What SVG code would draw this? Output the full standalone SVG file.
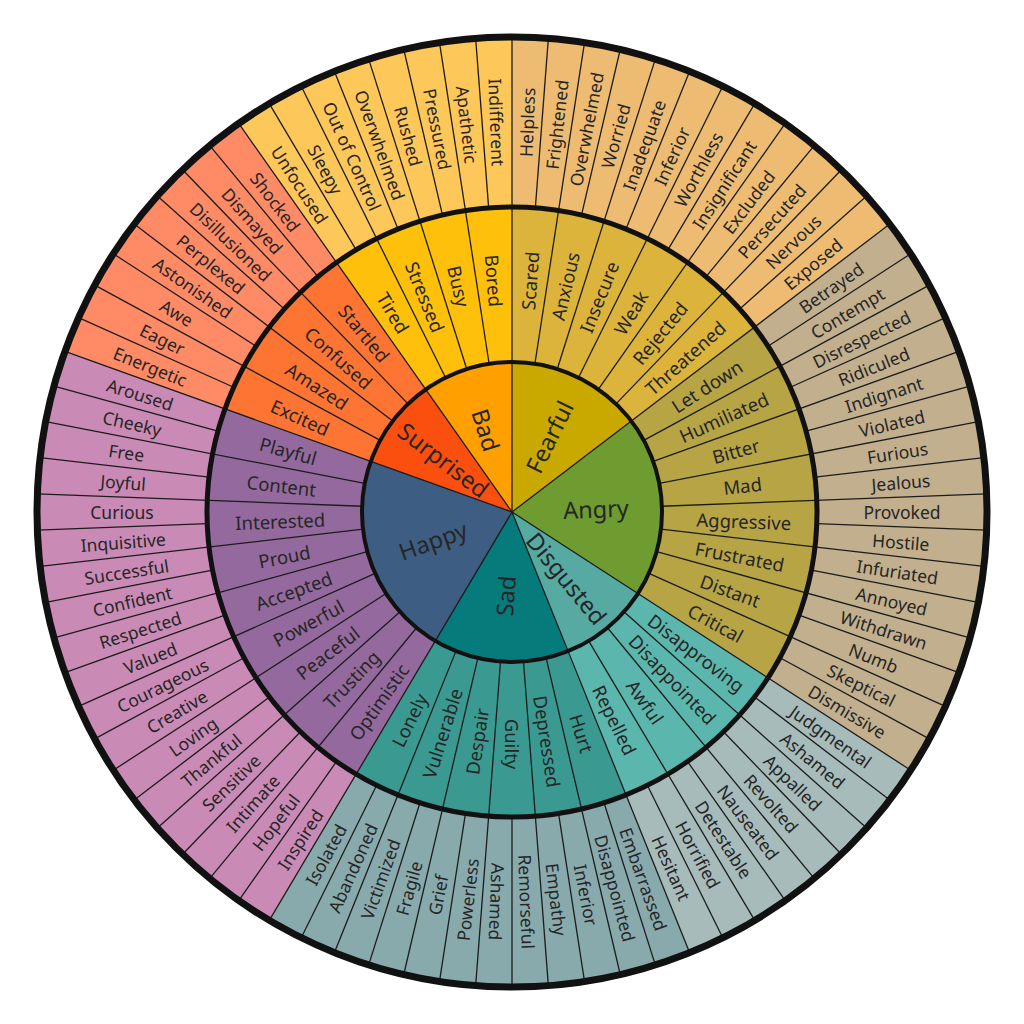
<svg xmlns="http://www.w3.org/2000/svg" xmlns:xlink="http://www.w3.org/1999/xlink" width="1024" height="1024" viewBox="0 0 1024 1024">
<style>
.t{font-family:"Noto Sans","Open Sans","DejaVu Sans",sans-serif;fill:#262626;text-anchor:middle;dominant-baseline:central}
.o{font-size:17.5px}
.m{font-size:18.5px}
.i{font-size:23.5px}
.dv{stroke:#1c1c1c;stroke-width:1.3;fill:none}
.ring{fill:none;stroke:#111}
</style>
<defs>
<line id="lmo" x1="512" y1="362" x2="512" y2="37"/>
<line id="lo" x1="512" y1="207" x2="512" y2="37"/>
<line id="li" x1="512" y1="512" x2="512" y2="362"/>
</defs>
<rect width="1024" height="1024" fill="#fff"/>

<g id="fearful">
<path fill="#EDBC72" d="M512 512 L512 37 A475 475 0 0 1 889.76 224.05 Z"/>
<path fill="#DDB43B" d="M512 512 L512 207 A305 305 0 0 1 754.56 327.10 Z"/>
<path fill="#C9A800" d="M512 512 L512 362 A150 150 0 0 1 631.29 421.07 Z"/>
<text class="t i" x="596" y="512" transform="rotate(-63.66 512 512)">Fearful</text>
<text class="t m" x="744" y="512" transform="rotate(-85.610 512 512)">Scared</text>
<text class="t m" x="744" y="512" transform="rotate(-76.829 512 512)">Anxious</text>
<text class="t m" x="744" y="512" transform="rotate(-68.049 512 512)">Insecure</text>
<text class="t m" x="744" y="512" transform="rotate(-59.268 512 512)">Weak</text>
<text class="t m" x="744" y="512" transform="rotate(-50.488 512 512)">Rejected</text>
<text class="t m" x="744" y="512" transform="rotate(-41.707 512 512)">Threatened</text>
<text class="t o" x="902" y="512" transform="rotate(-87.805 512 512)">Helpless</text>
<text class="t o" x="902" y="512" transform="rotate(-83.415 512 512)">Frightened</text>
<text class="t o" x="902" y="512" transform="rotate(-79.024 512 512)">Overwhelmed</text>
<text class="t o" x="902" y="512" transform="rotate(-74.634 512 512)">Worried</text>
<text class="t o" x="902" y="512" transform="rotate(-70.244 512 512)">Inadequate</text>
<text class="t o" x="902" y="512" transform="rotate(-65.854 512 512)">Inferior</text>
<text class="t o" x="902" y="512" transform="rotate(-61.463 512 512)">Worthless</text>
<text class="t o" x="902" y="512" transform="rotate(-57.073 512 512)">Insignificant</text>
<text class="t o" x="902" y="512" transform="rotate(-52.683 512 512)">Excluded</text>
<text class="t o" x="902" y="512" transform="rotate(-48.293 512 512)">Persecuted</text>
<text class="t o" x="902" y="512" transform="rotate(-43.902 512 512)">Nervous</text>
<text class="t o" x="902" y="512" transform="rotate(-39.512 512 512)">Exposed</text>
</g>

<g id="angry">
<path fill="#C1AF8D" d="M512 512 L889.76 224.05 A475 475 0 0 1 910.70 770.20 Z"/>
<path fill="#B6A445" d="M512 512 L754.56 327.10 A305 305 0 0 1 768.00 677.79 Z"/>
<path fill="#6E9C30" d="M512 512 L631.29 421.07 A150 150 0 0 1 637.90 593.54 Z"/>
<text class="t i" x="596" y="512" transform="rotate(-2.20 512 512)">Angry</text>
<text class="t m" x="744" y="512" transform="rotate(-32.927 512 512)">Let down</text>
<text class="t m" x="744" y="512" transform="rotate(-24.146 512 512)">Humiliated</text>
<text class="t m" x="744" y="512" transform="rotate(-15.366 512 512)">Bitter</text>
<text class="t m" x="744" y="512" transform="rotate(-6.585 512 512)">Mad</text>
<text class="t m" x="744" y="512" transform="rotate(2.195 512 512)">Aggressive</text>
<text class="t m" x="744" y="512" transform="rotate(10.976 512 512)">Frustrated</text>
<text class="t m" x="744" y="512" transform="rotate(19.756 512 512)">Distant</text>
<text class="t m" x="744" y="512" transform="rotate(28.537 512 512)">Critical</text>
<text class="t o" x="902" y="512" transform="rotate(-35.122 512 512)">Betrayed</text>
<text class="t o" x="902" y="512" transform="rotate(-30.732 512 512)">Contempt</text>
<text class="t o" x="902" y="512" transform="rotate(-26.341 512 512)">Disrespected</text>
<text class="t o" x="902" y="512" transform="rotate(-21.951 512 512)">Ridiculed</text>
<text class="t o" x="902" y="512" transform="rotate(-17.561 512 512)">Indignant</text>
<text class="t o" x="902" y="512" transform="rotate(-13.171 512 512)">Violated</text>
<text class="t o" x="902" y="512" transform="rotate(-8.780 512 512)">Furious</text>
<text class="t o" x="902" y="512" transform="rotate(-4.390 512 512)">Jealous</text>
<text class="t o" x="902" y="512">Provoked</text>
<text class="t o" x="902" y="512" transform="rotate(4.390 512 512)">Hostile</text>
<text class="t o" x="902" y="512" transform="rotate(8.780 512 512)">Infuriated</text>
<text class="t o" x="902" y="512" transform="rotate(13.171 512 512)">Annoyed</text>
<text class="t o" x="902" y="512" transform="rotate(17.561 512 512)">Withdrawn</text>
<text class="t o" x="902" y="512" transform="rotate(21.951 512 512)">Numb</text>
<text class="t o" x="902" y="512" transform="rotate(26.341 512 512)">Skeptical</text>
<text class="t o" x="902" y="512" transform="rotate(30.732 512 512)">Dismissive</text>
</g>

<g id="disgusted">
<path fill="#A6BBBA" d="M512 512 L910.70 770.20 A475 475 0 0 1 689.56 952.56 Z"/>
<path fill="#5BB7AD" d="M512 512 L768.00 677.79 A305 305 0 0 1 626.02 794.89 Z"/>
<path fill="#56AAA2" d="M512 512 L637.90 593.54 A150 150 0 0 1 568.07 651.13 Z"/>
<text class="t i" x="598" y="512" transform="rotate(50.49 512 512)">Disgusted</text>
<text class="t m" x="744" y="512" transform="rotate(37.317 512 512)">Disapproving</text>
<text class="t m" x="744" y="512" transform="rotate(46.098 512 512)">Disappointed</text>
<text class="t m" x="744" y="512" transform="rotate(54.878 512 512)">Awful</text>
<text class="t m" x="744" y="512" transform="rotate(63.659 512 512)">Repelled</text>
<text class="t o" x="902" y="512" transform="rotate(35.122 512 512)">Judgmental</text>
<text class="t o" x="902" y="512" transform="rotate(39.512 512 512)">Ashamed</text>
<text class="t o" x="902" y="512" transform="rotate(43.902 512 512)">Appalled</text>
<text class="t o" x="902" y="512" transform="rotate(48.293 512 512)">Revolted</text>
<text class="t o" x="902" y="512" transform="rotate(52.683 512 512)">Nauseated</text>
<text class="t o" x="902" y="512" transform="rotate(57.073 512 512)">Detestable</text>
<text class="t o" x="902" y="512" transform="rotate(61.463 512 512)">Horrified</text>
<text class="t o" x="902" y="512" transform="rotate(65.854 512 512)">Hesitant</text>
</g>

<g id="sad">
<path fill="#89AAAD" d="M512 512 L689.56 952.56 A475 475 0 0 1 269.27 920.30 Z"/>
<path fill="#3A9A91" d="M512 512 L626.02 794.89 A305 305 0 0 1 356.14 774.17 Z"/>
<path fill="#057B7B" d="M512 512 L568.07 651.13 A150 150 0 0 1 435.35 640.94 Z"/>
<text class="t i" x="428" y="512" transform="rotate(-85.61 512 512)">Sad</text>
<text class="t m" x="744" y="512" transform="rotate(72.439 512 512)">Hurt</text>
<text class="t m" x="744" y="512" transform="rotate(81.220 512 512)">Depressed</text>
<text class="t m" x="744" y="512" transform="rotate(90 512 512)">Guilty</text>
<text class="t m" x="280" y="512" transform="rotate(-81.220 512 512)">Despair</text>
<text class="t m" x="280" y="512" transform="rotate(-72.439 512 512)">Vulnerable</text>
<text class="t m" x="280" y="512" transform="rotate(-63.659 512 512)">Lonely</text>
<text class="t o" x="902" y="512" transform="rotate(70.244 512 512)">Embarrassed</text>
<text class="t o" x="902" y="512" transform="rotate(74.634 512 512)">Disappointed</text>
<text class="t o" x="902" y="512" transform="rotate(79.024 512 512)">Inferior</text>
<text class="t o" x="902" y="512" transform="rotate(83.415 512 512)">Empathy</text>
<text class="t o" x="902" y="512" transform="rotate(87.805 512 512)">Remorseful</text>
<text class="t o" x="902" y="512" transform="rotate(92.195 512 512)">Ashamed</text>
<text class="t o" x="122" y="512" transform="rotate(-83.415 512 512)">Powerless</text>
<text class="t o" x="122" y="512" transform="rotate(-79.024 512 512)">Grief</text>
<text class="t o" x="122" y="512" transform="rotate(-74.634 512 512)">Fragile</text>
<text class="t o" x="122" y="512" transform="rotate(-70.244 512 512)">Victimized</text>
<text class="t o" x="122" y="512" transform="rotate(-65.854 512 512)">Abandoned</text>
<text class="t o" x="122" y="512" transform="rotate(-61.463 512 512)">Isolated</text>
</g>

<g id="happy">
<path fill="#C98AB6" d="M512 512 L269.27 920.30 A475 475 0 0 1 64.95 351.44 Z"/>
<path fill="#94699D" d="M512 512 L356.14 774.17 A305 305 0 0 1 224.95 408.90 Z"/>
<path fill="#3E5D82" d="M512 512 L435.35 640.94 A150 150 0 0 1 370.83 461.30 Z"/>
<text class="t i" x="428" y="512" transform="rotate(-19.76 512 512)">Happy</text>
<text class="t m" x="280" y="512" transform="rotate(-54.878 512 512)">Optimistic</text>
<text class="t m" x="280" y="512" transform="rotate(-46.098 512 512)">Trusting</text>
<text class="t m" x="280" y="512" transform="rotate(-37.317 512 512)">Peaceful</text>
<text class="t m" x="280" y="512" transform="rotate(-28.537 512 512)">Powerful</text>
<text class="t m" x="280" y="512" transform="rotate(-19.756 512 512)">Accepted</text>
<text class="t m" x="280" y="512" transform="rotate(-10.976 512 512)">Proud</text>
<text class="t m" x="280" y="512" transform="rotate(-2.195 512 512)">Interested</text>
<text class="t m" x="280" y="512" transform="rotate(6.585 512 512)">Content</text>
<text class="t m" x="280" y="512" transform="rotate(15.366 512 512)">Playful</text>
<text class="t o" x="122" y="512" transform="rotate(-57.073 512 512)">Inspired</text>
<text class="t o" x="122" y="512" transform="rotate(-52.683 512 512)">Hopeful</text>
<text class="t o" x="122" y="512" transform="rotate(-48.293 512 512)">Intimate</text>
<text class="t o" x="122" y="512" transform="rotate(-43.902 512 512)">Sensitive</text>
<text class="t o" x="122" y="512" transform="rotate(-39.512 512 512)">Thankful</text>
<text class="t o" x="122" y="512" transform="rotate(-35.122 512 512)">Loving</text>
<text class="t o" x="122" y="512" transform="rotate(-30.732 512 512)">Creative</text>
<text class="t o" x="122" y="512" transform="rotate(-26.341 512 512)">Courageous</text>
<text class="t o" x="122" y="512" transform="rotate(-21.951 512 512)">Valued</text>
<text class="t o" x="122" y="512" transform="rotate(-17.561 512 512)">Respected</text>
<text class="t o" x="122" y="512" transform="rotate(-13.171 512 512)">Confident</text>
<text class="t o" x="122" y="512" transform="rotate(-8.780 512 512)">Successful</text>
<text class="t o" x="122" y="512" transform="rotate(-4.390 512 512)">Inquisitive</text>
<text class="t o" x="122" y="512">Curious</text>
<text class="t o" x="122" y="512" transform="rotate(4.390 512 512)">Joyful</text>
<text class="t o" x="122" y="512" transform="rotate(8.780 512 512)">Free</text>
<text class="t o" x="122" y="512" transform="rotate(13.171 512 512)">Cheeky</text>
<text class="t o" x="122" y="512" transform="rotate(17.561 512 512)">Aroused</text>
</g>

<g id="surprised">
<path fill="#FE8A66" d="M512 512 L64.95 351.44 A475 475 0 0 1 238.72 123.48 Z"/>
<path fill="#FE7433" d="M512 512 L224.95 408.90 A305 305 0 0 1 336.53 262.53 Z"/>
<path fill="#FB4F0F" d="M512 512 L370.83 461.30 A150 150 0 0 1 425.70 389.31 Z"/>
<text class="t i" x="426" y="512" transform="rotate(37.32 512 512)">Surprised</text>
<text class="t m" x="280" y="512" transform="rotate(24.146 512 512)">Excited</text>
<text class="t m" x="280" y="512" transform="rotate(32.927 512 512)">Amazed</text>
<text class="t m" x="280" y="512" transform="rotate(41.707 512 512)">Confused</text>
<text class="t m" x="280" y="512" transform="rotate(50.488 512 512)">Startled</text>
<text class="t o" x="122" y="512" transform="rotate(21.951 512 512)">Energetic</text>
<text class="t o" x="122" y="512" transform="rotate(26.341 512 512)">Eager</text>
<text class="t o" x="122" y="512" transform="rotate(30.732 512 512)">Awe</text>
<text class="t o" x="122" y="512" transform="rotate(35.122 512 512)">Astonished</text>
<text class="t o" x="122" y="512" transform="rotate(39.512 512 512)">Perplexed</text>
<text class="t o" x="122" y="512" transform="rotate(43.902 512 512)">Disillusioned</text>
<text class="t o" x="122" y="512" transform="rotate(48.293 512 512)">Dismayed</text>
<text class="t o" x="122" y="512" transform="rotate(52.683 512 512)">Shocked</text>
</g>

<g id="bad">
<path fill="#FEC759" d="M512 512 L238.72 123.48 A475 475 0 0 1 512 37 Z"/>
<path fill="#FFC00C" d="M512 512 L336.53 262.53 A305 305 0 0 1 512 207 Z"/>
<path fill="#FF9F00" d="M512 512 L425.70 389.31 A150 150 0 0 1 512 362 Z"/>
<text class="t i" x="426" y="512" transform="rotate(72.44 512 512)">Bad</text>
<text class="t m" x="280" y="512" transform="rotate(59.268 512 512)">Tired</text>
<text class="t m" x="280" y="512" transform="rotate(68.049 512 512)">Stressed</text>
<text class="t m" x="280" y="512" transform="rotate(76.829 512 512)">Busy</text>
<text class="t m" x="280" y="512" transform="rotate(85.610 512 512)">Bored</text>
<text class="t o" x="122" y="512" transform="rotate(57.073 512 512)">Unfocused</text>
<text class="t o" x="122" y="512" transform="rotate(61.463 512 512)">Sleepy</text>
<text class="t o" x="122" y="512" transform="rotate(65.854 512 512)">Out of Control</text>
<text class="t o" x="122" y="512" transform="rotate(70.244 512 512)">Overwhelmed</text>
<text class="t o" x="122" y="512" transform="rotate(74.634 512 512)">Rushed</text>
<text class="t o" x="122" y="512" transform="rotate(79.024 512 512)">Pressured</text>
<text class="t o" x="122" y="512" transform="rotate(83.415 512 512)">Apathetic</text>
<text class="t o" x="122" y="512" transform="rotate(87.805 512 512)">Indifferent</text>
</g>

<g id="connectors" class="dv">
<use xlink:href="#li"/>
<use xlink:href="#li" transform="rotate(52.683 512 512)"/>
<use xlink:href="#li" transform="rotate(122.927 512 512)"/>
<use xlink:href="#li" transform="rotate(158.049 512 512)"/>
<use xlink:href="#li" transform="rotate(210.732 512 512)"/>
<use xlink:href="#li" transform="rotate(289.756 512 512)"/>
<use xlink:href="#li" transform="rotate(324.878 512 512)"/>
<use xlink:href="#lmo"/>
<use xlink:href="#lmo" transform="rotate(8.780 512 512)"/>
<use xlink:href="#lmo" transform="rotate(17.561 512 512)"/>
<use xlink:href="#lmo" transform="rotate(26.341 512 512)"/>
<use xlink:href="#lmo" transform="rotate(35.122 512 512)"/>
<use xlink:href="#lmo" transform="rotate(43.902 512 512)"/>
<use xlink:href="#lmo" transform="rotate(52.683 512 512)"/>
<use xlink:href="#lmo" transform="rotate(61.463 512 512)"/>
<use xlink:href="#lmo" transform="rotate(70.244 512 512)"/>
<use xlink:href="#lmo" transform="rotate(79.024 512 512)"/>
<use xlink:href="#lmo" transform="rotate(87.805 512 512)"/>
<use xlink:href="#lmo" transform="rotate(96.585 512 512)"/>
<use xlink:href="#lmo" transform="rotate(105.366 512 512)"/>
<use xlink:href="#lmo" transform="rotate(114.146 512 512)"/>
<use xlink:href="#lmo" transform="rotate(122.927 512 512)"/>
<use xlink:href="#lmo" transform="rotate(131.707 512 512)"/>
<use xlink:href="#lmo" transform="rotate(140.488 512 512)"/>
<use xlink:href="#lmo" transform="rotate(149.268 512 512)"/>
<use xlink:href="#lmo" transform="rotate(158.049 512 512)"/>
<use xlink:href="#lmo" transform="rotate(166.829 512 512)"/>
<use xlink:href="#lmo" transform="rotate(175.610 512 512)"/>
<use xlink:href="#lmo" transform="rotate(184.390 512 512)"/>
<use xlink:href="#lmo" transform="rotate(193.171 512 512)"/>
<use xlink:href="#lmo" transform="rotate(201.951 512 512)"/>
<use xlink:href="#lmo" transform="rotate(210.732 512 512)"/>
<use xlink:href="#lmo" transform="rotate(219.512 512 512)"/>
<use xlink:href="#lmo" transform="rotate(228.293 512 512)"/>
<use xlink:href="#lmo" transform="rotate(237.073 512 512)"/>
<use xlink:href="#lmo" transform="rotate(245.854 512 512)"/>
<use xlink:href="#lmo" transform="rotate(254.634 512 512)"/>
<use xlink:href="#lmo" transform="rotate(263.415 512 512)"/>
<use xlink:href="#lmo" transform="rotate(272.195 512 512)"/>
<use xlink:href="#lmo" transform="rotate(280.976 512 512)"/>
<use xlink:href="#lmo" transform="rotate(289.756 512 512)"/>
<use xlink:href="#lmo" transform="rotate(298.537 512 512)"/>
<use xlink:href="#lmo" transform="rotate(307.317 512 512)"/>
<use xlink:href="#lmo" transform="rotate(316.098 512 512)"/>
<use xlink:href="#lmo" transform="rotate(324.878 512 512)"/>
<use xlink:href="#lmo" transform="rotate(333.659 512 512)"/>
<use xlink:href="#lmo" transform="rotate(342.439 512 512)"/>
<use xlink:href="#lmo" transform="rotate(351.220 512 512)"/>
<use xlink:href="#lo" transform="rotate(4.390 512 512)"/>
<use xlink:href="#lo" transform="rotate(13.171 512 512)"/>
<use xlink:href="#lo" transform="rotate(21.951 512 512)"/>
<use xlink:href="#lo" transform="rotate(30.732 512 512)"/>
<use xlink:href="#lo" transform="rotate(39.512 512 512)"/>
<use xlink:href="#lo" transform="rotate(48.293 512 512)"/>
<use xlink:href="#lo" transform="rotate(57.073 512 512)"/>
<use xlink:href="#lo" transform="rotate(65.854 512 512)"/>
<use xlink:href="#lo" transform="rotate(74.634 512 512)"/>
<use xlink:href="#lo" transform="rotate(83.415 512 512)"/>
<use xlink:href="#lo" transform="rotate(92.195 512 512)"/>
<use xlink:href="#lo" transform="rotate(100.976 512 512)"/>
<use xlink:href="#lo" transform="rotate(109.756 512 512)"/>
<use xlink:href="#lo" transform="rotate(118.537 512 512)"/>
<use xlink:href="#lo" transform="rotate(127.317 512 512)"/>
<use xlink:href="#lo" transform="rotate(136.098 512 512)"/>
<use xlink:href="#lo" transform="rotate(144.878 512 512)"/>
<use xlink:href="#lo" transform="rotate(153.659 512 512)"/>
<use xlink:href="#lo" transform="rotate(162.439 512 512)"/>
<use xlink:href="#lo" transform="rotate(171.220 512 512)"/>
<use xlink:href="#lo" transform="rotate(180 512 512)"/>
<use xlink:href="#lo" transform="rotate(188.780 512 512)"/>
<use xlink:href="#lo" transform="rotate(197.561 512 512)"/>
<use xlink:href="#lo" transform="rotate(206.341 512 512)"/>
<use xlink:href="#lo" transform="rotate(215.122 512 512)"/>
<use xlink:href="#lo" transform="rotate(223.902 512 512)"/>
<use xlink:href="#lo" transform="rotate(232.683 512 512)"/>
<use xlink:href="#lo" transform="rotate(241.463 512 512)"/>
<use xlink:href="#lo" transform="rotate(250.244 512 512)"/>
<use xlink:href="#lo" transform="rotate(259.024 512 512)"/>
<use xlink:href="#lo" transform="rotate(267.805 512 512)"/>
<use xlink:href="#lo" transform="rotate(276.585 512 512)"/>
<use xlink:href="#lo" transform="rotate(285.366 512 512)"/>
<use xlink:href="#lo" transform="rotate(294.146 512 512)"/>
<use xlink:href="#lo" transform="rotate(302.927 512 512)"/>
<use xlink:href="#lo" transform="rotate(311.707 512 512)"/>
<use xlink:href="#lo" transform="rotate(320.488 512 512)"/>
<use xlink:href="#lo" transform="rotate(329.268 512 512)"/>
<use xlink:href="#lo" transform="rotate(338.049 512 512)"/>
<use xlink:href="#lo" transform="rotate(346.829 512 512)"/>
<use xlink:href="#lo" transform="rotate(355.610 512 512)"/>
</g>

<g id="rings">
<circle class="ring" cx="512" cy="512" r="150" stroke-width="4"/>
<circle class="ring" cx="512" cy="512" r="305" stroke-width="5"/>
<circle class="ring" cx="512" cy="512" r="475" stroke-width="7"/>
</g>
</svg>
